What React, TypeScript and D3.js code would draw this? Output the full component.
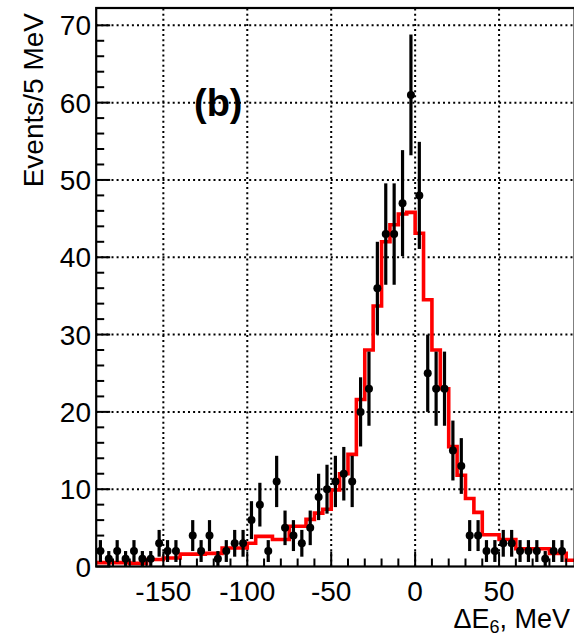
import React from "react";
import * as d3 from "d3";

// histogram binning: 5 MeV bins from -190 to 95
const binLow = -190;
const binWidth = 5;

// data points (events per bin)
const counts = [
  2, 1, 2, 1, 2, 1, 1, 3, 2, 2, 0, 4, 2, 4, 1, 2, 3, 3, 6, 8, 2, 11, 5, 4, 3,
  5, 9, 10, 11, 12, 11, 20, 23, 36, 43, 43, 47, 61, 48, 25, 23, 23, 15, 13, 4,
  4, 2, 2, 3, 3, 2, 2, 2, 1, 2, 2, 0,
];

// red histogram (fit / simulation)
const fit = [
  0.5, 0.5, 0.5, 0.5, 0.4, 0.4, 0.9, 0.9, 1.1, 1.1, 1.6, 1.6, 1.6, 1.7, 1.7,
  2.4, 2.4, 2.4, 3.0, 3.9, 3.9, 3.5, 3.5, 5.2, 5.2, 6.1, 6.9, 7.4, 9.9, 12.0,
  14.5, 21.6, 28.0, 33.7, 42.0, 44.2, 45.6, 45.8, 43.1, 34.5, 28.0, 23.0, 15.5,
  11.8, 8.8, 7.0, 4.1, 4.1, 3.5, 3.5, 2.3, 2.3, 2.3, 2.3, 1.7, 1.7, 0.8,
];

const xTicks = [-150, -100, -50, 0, 50];
const yTicks = [0, 10, 20, 30, 40, 50, 60, 70];

const W = 574;
const H = 638;
const font = "'Liberation Sans', Arial, Helvetica, sans-serif";

function App() {
  const nBins = counts.length;
  const xMax = binLow + binWidth * nBins;

  const x = d3.scaleLinear().domain([binLow, xMax]).range([96.2, 574.6]);
  const y = d3.scaleLinear().domain([0, 72.24]).range([566.5, 8]);

  const left = x.range()[0];
  const right = x.range()[1];
  const bottom = y.range()[0];
  const top = y.range()[1];

  const fitPts: [number, number][] = fit.map((v, i) => [binLow + i * binWidth, v]);
  fitPts.push([xMax, fit[fit.length - 1]]);
  const fitLine = d3
    .line<[number, number]>()
    .x((d) => x(d[0]))
    .y((d) => y(d[1]))
    .curve(d3.curveStepAfter);

  const pts = counts
    .map((c, i) => ({ c, x: binLow + (i + 0.5) * binWidth }))
    .filter((d) => d.c > 0);

  const xMinor = d3.range(-180, xMax, 10).filter((v) => !xTicks.includes(v));
  const yMinor = d3.range(0, 72, 2).filter((v) => !yTicks.includes(v));

  return (
    <svg
      width={W}
      height={H}
      style={{ position: "absolute", left: 0, top: 0, background: "#fff" }}
    >
      <rect width={W} height={H} fill="#fff" />

      {/* grid */}
      <g stroke="#000" strokeWidth={2} strokeDasharray="2,3.1">
        {xTicks.map((t) => (
          <line key={"gx" + t} x1={x(t)} x2={x(t)} y1={bottom} y2={top} />
        ))}
        {yTicks.slice(1).map((t) => (
          <line key={"gy" + t} x1={left} x2={right} y1={y(t)} y2={y(t)} />
        ))}
      </g>

      {/* fit histogram */}
      <path d={fitLine(fitPts) || ""} fill="none" stroke="#ff0000" strokeWidth={3.6} />

      {/* data points */}
      <g fill="#000" stroke="#000">
        {pts.map((d, i) => {
          const e = Math.sqrt(d.c);
          return (
            <g key={i}>
              <line
                x1={x(d.x)}
                x2={x(d.x)}
                y1={y(Math.max(0, d.c - e))}
                y2={y(d.c + e)}
                strokeWidth={3.2}
              />
              <circle cx={x(d.x)} cy={y(d.c)} r={4} stroke="none" />
            </g>
          );
        })}
      </g>

      {/* frame */}
      <rect
        x={left}
        y={top}
        width={right - left}
        height={bottom - top}
        fill="none"
        stroke="#000"
        strokeWidth={2.2}
      />

      {/* ticks */}
      <g stroke="#000" strokeWidth={2}>
        {xTicks.map((t) => (
          <line key={"tx" + t} x1={x(t)} x2={x(t)} y1={bottom} y2={bottom - 15} />
        ))}
        {xMinor.map((t) => (
          <line key={"mx" + t} x1={x(t)} x2={x(t)} y1={bottom} y2={bottom - 8} />
        ))}
        {yTicks.map((t) => (
          <line key={"ty" + t} x1={left} x2={left + 14} y1={y(t)} y2={y(t)} />
        ))}
        {yMinor.map((t) => (
          <line key={"my" + t} x1={left} x2={left + 8} y1={y(t)} y2={y(t)} />
        ))}
      </g>

      {/* tick labels */}
      <g fontFamily={font} fontSize={28} fill="#000">
        {xTicks.map((t) => (
          <text key={"lx" + t} x={x(t)} y={601} textAnchor="middle">
            {t}
          </text>
        ))}
        {yTicks.map((t) => (
          <text key={"ly" + t} x={91} y={y(t) + 10} textAnchor="end">
            {t}
          </text>
        ))}
      </g>

      {/* axis titles */}
      <text
        fontFamily={font}
        fontSize={28}
        transform={`translate(43,13) rotate(-90)`}
        textAnchor="end"
      >
        Events/5 MeV
      </text>
      <text fontFamily={font} fontSize={27} x={570} y={628} textAnchor="end">
        ΔE
        <tspan fontSize={18} dy={5}>
          6
        </tspan>
        <tspan dy={-5}>, MeV</tspan>
      </text>

      <text fontFamily={font} fontSize={38} fontWeight="bold" x={194} y={116}>
        (b)
      </text>
    </svg>
  );
}

export default App;
